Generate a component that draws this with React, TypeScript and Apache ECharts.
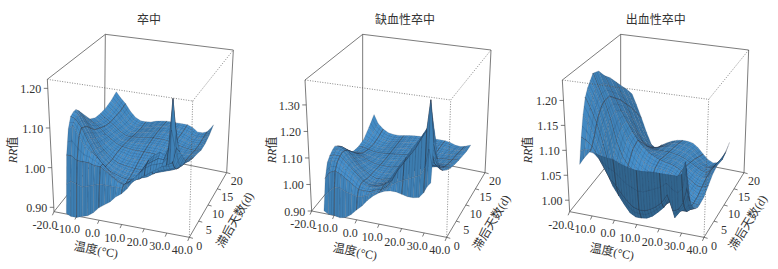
import React, { useEffect, useRef } from "react";
import * as echarts from "echarts";

const temps = [-14.5,-12.5,-10,-7.5,-5,-2.5,0,2.5,5,7.5,10,12.5,15,17.5,20,22.5,25,27.5,29.5,31,32.5];
const lags = [0,0.5,1,2,3,4,5,6,8,10,12,14,16,18,20];
const tempTicks = [-20,-10,0,10,20,30,40];
const lagTicks = [0,5,10,15,20];
const panelTitles = ["卒中","缺血性卒中","出血性卒中"];
const rrTicks1 = [0.9,1.0,1.1,1.2];
const rrTicks2 = [0.9,1.0,1.1,1.2,1.3];
const rrTicks3 = [1.0,1.05,1.1,1.15,1.2];
const darkLags = [1,3,6,10,14];
const darkTemps = [-10,0,10,20,29.5];

const strokeRR = [
[.89,.885,.885,.89,.895,.905,.92,.93,.94,.955,.965,.98,1.0,1.01,1.02,1.03,1.04,1.05,1.055,1.06,1.07],
[.96,.97,.965,.96,.965,.97,.975,.975,.975,.975,.975,.99,1.005,1.02,1.035,1.045,1.05,1.055,1.07,1.14,1.10],
[1.03,1.03,1.02,1.02,1.02,1.015,1.015,1.005,.995,.985,.98,.99,1.0,1.02,1.04,1.05,1.06,1.06,1.09,1.215,1.13],
[1.09,1.10,1.075,1.05,1.04,1.03,1.015,1.0,.985,.98,.975,.98,.995,1.02,1.045,1.06,1.068,1.06,1.08,1.15,1.10],
[1.115,1.11,1.09,1.06,1.035,1.015,1.0,.99,.985,.98,.978,.98,.985,1.0,1.015,1.03,1.035,1.035,1.04,1.08,1.07],
[1.12,1.115,1.085,1.06,1.035,1.015,1.0,.99,.985,.98,.978,.978,.98,.985,.995,1.005,1.01,1.015,1.02,1.04,1.055],
[1.12,1.105,1.08,1.05,1.03,1.012,.998,.99,.985,.982,.98,.98,.98,.985,.99,.995,1.0,1.005,1.01,1.02,1.04],
[1.11,1.095,1.07,1.045,1.025,1.01,.998,.99,.987,.985,.983,.983,.983,.985,.99,.995,.998,1.0,1.005,1.012,1.025],
[1.085,1.07,1.05,1.035,1.02,1.008,1.0,.995,.99,.99,.99,.99,.99,.99,.99,.992,.995,.997,1.0,1.005,1.01],
[1.06,1.05,1.04,1.025,1.015,1.005,1.0,.998,.996,.996,.996,.996,.995,.994,.993,.993,.994,.995,.996,.998,1.003],
[1.048,1.04,1.03,1.02,1.01,1.0,.998,.998,.998,1.0,1.0,1.0,1.0,.998,.996,.993,.992,.992,.993,.995,.998],
[1.045,1.035,1.025,1.015,1.003,.995,.994,.996,.998,1.0,1.002,1.002,1.002,1.0,.997,.993,.99,.988,.988,.99,.992],
[1.045,1.035,1.025,1.01,.998,.99,.99,.993,.997,1.0,1.003,1.004,1.004,1.002,.998,.993,.988,.986,.986,.988,.993],
[1.05,1.04,1.025,1.008,.993,.988,.987,.99,.995,.999,1.002,1.003,1.003,1.002,.998,.993,.987,.986,.988,.992,1.0],
[1.06,1.045,1.03,1.01,.995,.988,.988,.99,.995,.998,1.0,1.0,1.0,1.0,1.0,.995,.985,.985,.99,1.0,1.012],
];

const ischemicRR = [
[.91,.90,.90,.895,.90,.915,.936,.955,.98,1.0,1.015,1.025,1.03,1.03,1.025,1.02,1.02,1.025,1.045,1.07,1.085],
[.96,.98,1.0,1.0,.99,.985,.98,.985,.995,1.005,1.015,1.025,1.045,1.06,1.07,1.08,1.09,1.10,1.13,1.20,1.14],
[1.02,1.045,1.055,1.045,1.03,1.015,1.0,1.0,1.0,1.01,1.015,1.03,1.06,1.10,1.13,1.16,1.19,1.23,1.26,1.375,1.22],
[1.07,1.08,1.08,1.06,1.045,1.03,1.01,1.005,1.005,1.01,1.02,1.04,1.075,1.11,1.14,1.175,1.205,1.24,1.27,1.30,1.22],
[1.085,1.09,1.09,1.07,1.05,1.03,1.01,1.0,1.0,1.005,1.015,1.03,1.06,1.09,1.12,1.15,1.17,1.19,1.20,1.19,1.14],
[1.095,1.10,1.095,1.07,1.045,1.025,1.005,.995,.995,1.0,1.01,1.02,1.045,1.07,1.095,1.115,1.13,1.14,1.14,1.125,1.10],
[1.10,1.10,1.09,1.065,1.04,1.02,1.0,.99,.99,.995,1.005,1.015,1.03,1.05,1.07,1.09,1.10,1.105,1.10,1.09,1.08],
[1.09,1.09,1.08,1.055,1.03,1.012,.998,.99,.99,.995,1.0,1.01,1.02,1.035,1.05,1.065,1.075,1.08,1.08,1.07,1.065],
[1.055,1.055,1.05,1.03,1.015,1.0,.995,.99,.99,.995,1.0,1.005,1.01,1.02,1.03,1.04,1.045,1.05,1.05,1.05,1.045],
[1.015,1.02,1.02,1.01,1.0,.993,.99,.99,.99,.995,1.0,1.003,1.006,1.01,1.015,1.02,1.025,1.03,1.03,1.03,1.03],
[1.0,1.0,1.0,.995,.99,.988,.988,.99,.992,.995,.998,1.0,1.002,1.005,1.008,1.01,1.012,1.015,1.018,1.02,1.02],
[.995,.995,.99,.985,.983,.985,.987,.99,.993,.995,.997,.998,1.0,1.0,1.002,1.004,1.006,1.008,1.01,1.012,1.012],
[1.0,.995,.985,.98,.98,.983,.987,.99,.993,.995,.996,.997,.998,1.0,1.0,1.0,1.0,1.002,1.005,1.006,1.006],
[1.025,1.005,.99,.983,.98,.983,.987,.99,.993,.995,.996,.997,.998,1.0,1.0,.998,.995,.995,.997,1.0,1.0],
[1.055,1.02,1.0,.988,.985,.985,.988,.992,.995,.997,.998,.998,.998,.998,.998,.995,.988,.986,.99,.995,1.0],
];

const hemorrhagicRR = [
[1.076,1.09,1.104,1.103,1.10,1.098,1.097,1.092,1.088,1.085,1.083,1.083,1.084,1.085,1.085,1.085,1.085,1.085,1.09,1.115,1.07],
[1.10,1.105,1.105,1.095,1.085,1.075,1.07,1.06,1.05,1.045,1.04,1.04,1.045,1.05,1.055,1.065,1.055,1.05,1.06,1.10,1.05],
[1.125,1.12,1.11,1.09,1.07,1.05,1.04,1.025,1.012,1.003,1.0,1.0,1.005,1.012,1.022,1.04,1.01,1.015,1.03,1.06,1.035],
[1.165,1.15,1.125,1.095,1.055,1.03,1.013,.997,.983,.977,.977,.979,.985,.995,1.006,1.027,.99,1.005,1.01,1.02,1.02],
[1.195,1.175,1.145,1.105,1.055,1.03,1.015,1.0,.99,.985,.985,.987,.993,1.0,1.006,1.015,1.0,1.0,1.0,1.005,1.008],
[1.21,1.19,1.16,1.12,1.065,1.04,1.024,1.012,1.004,1.0,.998,1.0,1.004,1.008,1.01,1.01,1.005,1.0,.998,1.0,1.002],
[1.22,1.2,1.17,1.13,1.08,1.052,1.036,1.025,1.018,1.013,1.012,1.013,1.016,1.018,1.017,1.012,1.006,1.0,.997,.997,.998],
[1.23,1.205,1.175,1.14,1.095,1.066,1.05,1.04,1.03,1.025,1.024,1.025,1.026,1.026,1.022,1.015,1.008,1.001,.997,.996,.998],
[1.225,1.2,1.175,1.145,1.115,1.09,1.072,1.058,1.048,1.042,1.04,1.04,1.038,1.035,1.028,1.02,1.012,1.003,.998,.998,1.0],
[1.205,1.185,1.16,1.135,1.115,1.095,1.078,1.066,1.056,1.05,1.045,1.042,1.04,1.036,1.03,1.02,1.012,1.005,1.004,1.006,1.01],
[1.19,1.17,1.145,1.12,1.095,1.075,1.06,1.05,1.045,1.042,1.04,1.038,1.036,1.032,1.027,1.02,1.012,1.008,1.01,1.015,1.02],
[1.17,1.15,1.125,1.097,1.07,1.05,1.04,1.036,1.036,1.036,1.036,1.034,1.032,1.028,1.022,1.016,1.01,1.006,1.012,1.02,1.025],
[1.15,1.13,1.105,1.075,1.048,1.03,1.024,1.026,1.03,1.032,1.032,1.03,1.028,1.024,1.016,1.008,1.002,1.002,1.01,1.018,1.022],
[1.13,1.11,1.08,1.05,1.025,1.01,1.01,1.016,1.022,1.027,1.028,1.027,1.024,1.018,1.008,.998,.99,.993,1.005,1.015,1.025],
[1.107,1.085,1.056,1.025,.999,.992,1.003,1.01,1.016,1.02,1.022,1.022,1.02,1.012,1.0,.99,.985,.988,.997,1.015,1.036],
];

type Pt = [number, number];
type Panel = {
  grid: number[][]; ticks: number[]; zMin: number; zMax: number; under: number;
  off: number; A: Pt; B: Pt; C: Pt; D: Pt; E: Pt; F: Pt; G: Pt; H: Pt;
  title: Pt; xName: Pt; lagName: Pt; zName: Pt;
};

// Box corners and label anchors, measured on a 3x enlargement of each panel.
const panels: Panel[] = [
  { grid: strokeRR, ticks: rrTicks1, zMin: 0.889, zMax: 1.2227, under: 0.94, off: 0,
    A:[162,635],B:[568,712],C:[680,518],D:[313,445],E:[142,238],F:[578,303],G:[700,150],H:[316,103],
    title:[432,45],xName:[288,750],lagName:[705,660],zName:[40,450] },
  { grid: ischemicRR, ticks: rrTicks2, zMin: 0.9, zMax: 1.394, under: 0.94, off: 260,
    A:[155,633],B:[560,712],C:[675,518],D:[308,445],E:[135,240],F:[572,300],G:[693,150],H:[308,103],
    title:[420,45],xName:[285,755],lagName:[695,668],zName:[35,450] },
  { grid: hemorrhagicRR, ticks: rrTicks3, zMin: 0.977, zMax: 1.241, under: 0.74, off: 518,
    A:[155,635],B:[558,712],C:[678,518],D:[308,445],E:[133,240],F:[572,298],G:[692,150],H:[308,103],
    title:[398,45],xName:[282,755],lagName:[690,668],zName:[30,450] },
];

const SERIF = "Liberation Serif, Noto Sans CJK SC, serif";
const TEXT = "#333333";
const LINE = "#444444";
const tMin = -20, tMax = 40, lMax = 20;

const lerp = (a: Pt, b: Pt, f: number): Pt => [a[0] + (b[0] - a[0]) * f, a[1] + (b[1] - a[1]) * f];

function projector(p: Panel) {
  return (t: number, l: number, z: number): Pt => {
    const u = (t - tMin) / (tMax - tMin), v = l / lMax, w = (z - p.zMin) / (p.zMax - p.zMin);
    const bot = lerp(lerp(p.A, p.B, u), lerp(p.D, p.C, u), v);
    const top = lerp(lerp(p.E, p.F, u), lerp(p.H, p.G, u), v);
    const q = lerp(bot, top, w);
    return [p.off + q[0] / 3, q[1] / 3];
  };
}
const at = (p: Panel, q: Pt): Pt => [p.off + q[0] / 3, q[1] / 3];

function seg(a: Pt, b: Pt, dotted = false) {
  return {
    type: "line", silent: true,
    shape: { x1: a[0], y1: a[1], x2: b[0], y2: b[1] },
    style: { stroke: dotted ? "#555555" : LINE, lineWidth: 0.7, lineDash: dotted ? [1, 1.5] : undefined },
  };
}
function label(text: string, q: Pt, rotation = 0, align = "center", rich?: any) {
  return {
    type: "text", x: q[0], y: q[1], rotation, silent: true,
    style: { text, fontFamily: SERIF, fontSize: 12, fill: TEXT, align, verticalAlign: "middle", rich },
  };
}

function backFrame(p: Panel) {
  const P = projector(p);
  const { zMin: a, zMax: b } = p;
  const k: any[] = [
    seg(P(tMin,0,a),P(tMax,0,a)), seg(P(tMax,0,a),P(tMax,lMax,a)),
    seg(P(tMin,0,a),P(tMin,lMax,a)), seg(P(tMin,lMax,a),P(tMax,lMax,a)),
    seg(P(tMin,0,a),P(tMin,0,b)), seg(P(tMin,lMax,a),P(tMin,lMax,b)), seg(P(tMax,lMax,a),P(tMax,lMax,b)),
    seg(P(tMin,0,b),P(tMin,lMax,b)), seg(P(tMin,lMax,b),P(tMax,lMax,b)),
  ];
  tempTicks.forEach((t) => {
    const q = P(t, 0, a);
    k.push(seg(q, [q[0] - 1.6, q[1] + 3.6]));
    k.push(label(t.toFixed(1), [q[0] + (t === 0 ? 1 : 3.5), q[1] + 13], 0, "right"));
  });
  lagTicks.forEach((l) => {
    const q = P(tMax, l, a);
    k.push(seg(q, [q[0] + 3.6, q[1] + 1]));
    k.push(label(String(l), [q[0] + 10, q[1] + 8.5]));
  });
  p.ticks.forEach((z) => {
    const q = P(tMin, 0, z);
    k.push(seg(q, [q[0] - 4, q[1]]));
    k.push(label(z.toFixed(2), [q[0] - 6.5, q[1] + 1], 0, "right"));
  });
  const [ax, ay] = p.B, [bx, by] = p.A, [cx, cy] = p.C;
  k.push(label("温度(°C)", at(p, p.xName), -Math.atan2(ay - by, ax - bx)));
  k.push(label("滞后天数(d)", at(p, p.lagName), Math.atan2(ay - cy, cx - ax)));
  k.push(label("{i|RR}值", at(p, p.zName), Math.PI / 2, "center", { i: { fontStyle: "italic", fontFamily: SERIF, fontSize: 12, fill: TEXT } }));
  return { type: "group", children: k };
}

function frontFrame(p: Panel) {
  const P = projector(p);
  const { zMin: a, zMax: b } = p;
  return {
    type: "group",
    children: [
      seg(P(tMin,0,b),P(tMax,0,b),true), seg(P(tMax,0,b),P(tMax,lMax,b),true), seg(P(tMax,0,a),P(tMax,0,b),true),
    ],
  };
}

function surfaceCell(p: Panel, i: number, j: number) {
  const P = projector(p);
  const g = p.grid;
  const p0 = P(temps[j], lags[i], g[i][j]);
  const p1 = P(temps[j + 1], lags[i], g[i][j + 1]);
  const p2 = P(temps[j + 1], lags[i + 1], g[i + 1][j + 1]);
  const p3 = P(temps[j], lags[i + 1], g[i + 1][j]);
  const area = (p2[0]-p0[0])*(p3[1]-p1[1]) - (p2[1]-p0[1])*(p3[0]-p1[0]);
  const range = p.zMax - p.zMin;
  const du = (temps[j + 1] - temps[j]) / 60, dv = (lags[i + 1] - lags[i]) / 20;
  const dzu = ((g[i][j + 1] + g[i + 1][j + 1] - g[i][j] - g[i + 1][j]) / 2 / range) / du;
  const dzv = ((g[i + 1][j] + g[i + 1][j + 1] - g[i][j] - g[i][j + 1]) / 2 / range) / dv;
  const len = Math.sqrt(dzu * dzu + dzv * dzv + 1);
  const lit = (0.3 * -dzu + 0.35 * dzv + 0.8) / len;
  let s = Math.max(0.84, Math.min(1.06, 0.8 + 0.3 * lit));
  if (area > 0) s = p.under;
  const fill = `rgb(${Math.round(66 * s)},${Math.round(136 * s)},${Math.round(192 * s)})`;
  const mesh = { stroke: "rgba(32,42,58,0.5)", lineWidth: 0.3, fill: "none" };
  const children: any[] = [{
    type: "polygon", silent: true,
    shape: { points: [p0, p1, p2, p3] },
    style: { fill, stroke: "rgba(32,42,58,0.5)", lineWidth: 0.3 },
  }];
  // The picture's mesh is finer than the read-off grid: hatch each cell so the texture matches.
  const nLag = lags[i + 1] - lags[i] >= 2 ? 2 : lags[i + 1] - lags[i] >= 1 ? 1 : 0;
  for (let n = 1; n <= nLag; n++) {
    const f = n / (nLag + 1);
    children.push({ type: "polyline", silent: true, shape: { points: [lerp(p0, p3, f), lerp(p1, p2, f)] }, style: mesh });
  }
  if (temps[j + 1] - temps[j] >= 2.5) {
    children.push({ type: "polyline", silent: true, shape: { points: [lerp(p0, p1, 0.5), lerp(p3, p2, 0.5)] }, style: mesh });
  }
  const dark = { stroke: "rgba(40,45,55,0.8)", lineWidth: 0.6, fill: "none" };
  if (darkLags.includes(lags[i])) children.push({ type: "polyline", silent: true, shape: { points: [p0, p1] }, style: dark });
  if (darkTemps.includes(temps[j])) children.push({ type: "polyline", silent: true, shape: { points: [p0, p3] }, style: dark });
  return { type: "group", children };
}

export default function App() {
  const ref = useRef<HTMLDivElement>(null);
  useEffect(() => {
    const chart = echarts.init(ref.current!, undefined, { renderer: "svg" });
    const series: any[] = [];
    panels.forEach((p) => {
      series.push({ type: "custom", coordinateSystem: "none", silent: true, z: 1, data: [[0]], renderItem: () => backFrame(p) });
      const cells: number[][] = [];
      for (let i = lags.length - 2; i >= 0; i--)
        for (let j = 0; j < temps.length - 1; j++) cells.push([i, j, p.grid[i][j]]);
      series.push({
        type: "custom", coordinateSystem: "none", silent: true, z: 2, data: cells,
        renderItem: (_: any, api: any) => surfaceCell(p, api.value(0), api.value(1)),
      });
      series.push({ type: "custom", coordinateSystem: "none", silent: true, z: 3, data: [[0]], renderItem: () => frontFrame(p) });
    });
    chart.setOption({
      animation: false,
      backgroundColor: "#ffffff",
      title: panels.map((p, i) => ({
        text: panelTitles[i],
        left: at(p, p.title)[0], top: at(p, p.title)[1], textAlign: "center", textVerticalAlign: "middle",
        textStyle: { fontFamily: SERIF, fontSize: 12, fontWeight: "normal", color: TEXT },
      })),
      series,
    });
    return () => chart.dispose();
  }, []);
  return <div ref={ref} style={{ position: "fixed", left: 0, top: 0, width: 778, height: 269 }} />;
}
